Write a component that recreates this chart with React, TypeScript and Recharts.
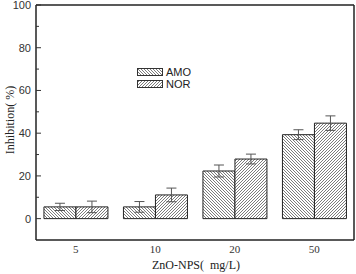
import { Bar, BarChart, ErrorBar, XAxis, YAxis } from 'recharts';

const concentrations = ['5', '10', '20', '50'];
const seriesNames = ['AMO', 'NOR'];
const amoValues = [5.5, 5.5, 22.3, 39.3];
const amoErrors = [1.7, 2.5, 2.8, 2.3];
const norValues = [5.5, 11.1, 27.9, 44.7];
const norErrors = [2.7, 3.2, 2.3, 3.4];
const yTicks = [-10, 0, 10, 20, 30, 40, 50, 60, 70, 80, 90, 100];

const data = concentrations.map((c, i) => ({
  conc: c,
  AMO: amoValues[i],
  amoErr: amoErrors[i],
  NOR: norValues[i],
  norErr: norErrors[i],
}));

const fills: Record<string, string> = { AMO: 'url(#hatchBack)', NOR: 'url(#hatchFwd)' };

function YTick(props: any) {
  const { x, y, payload } = props;
  const v = payload.value;
  if (v === -10) return null;
  const major = v % 20 === 0;
  return (
    <g>
      <line x1={x} x2={x + (major ? 5 : 3)} y1={y} y2={y} stroke="#333" strokeWidth={1} />
      {major && (
        <text x={x - 5} y={y} dy={4} textAnchor="end" fontSize={11} fill="#333" fontFamily="'Liberation Sans', Arial, sans-serif">
          {v}
        </text>
      )}
    </g>
  );
}

function XTick(props: any) {
  const { x, y, payload } = props;
  return (
    <text x={x} y={y} dy={10} textAnchor="middle" fontSize={11} fill="#333" fontFamily="'Liberation Serif', 'Times New Roman', serif">
      {payload.value}
    </text>
  );
}

export default function App() {
  return (
    <div style={{ position: 'fixed', left: 0, top: 0, width: 356, height: 274, background: '#fff' }}>
      <svg width={0} height={0} style={{ position: 'absolute' }}>
        <defs>
          <pattern id="hatchBack" patternUnits="userSpaceOnUse" width={3} height={3}>
            <rect width={3} height={3} fill="#fff" />
            <path d="M-1,-1 L4,4 M-1,2 L1,4 M2,-1 L4,1" stroke="#444" strokeWidth={0.7} />
          </pattern>
          <pattern id="hatchFwd" patternUnits="userSpaceOnUse" width={3} height={3}>
            <rect width={3} height={3} fill="#fff" />
            <path d="M-1,4 L4,-1 M-1,1 L1,-1 M2,4 L4,2" stroke="#444" strokeWidth={0.7} />
          </pattern>
        </defs>
      </svg>
      <BarChart
        width={356}
        height={274}
        data={data}
        margin={{ top: 0, right: 0, bottom: 0, left: 0 }}
        barCategoryGap="10%"
        barGap={0}
      >
        <XAxis dataKey="conc" height={34} tickLine={false} tickSize={0} tickMargin={3} tick={<XTick />} axisLine={{ stroke: '#222', strokeWidth: 1.5 }} interval={0} />
        <XAxis xAxisId="top" orientation="top" dataKey="conc" height={5} tick={false} tickLine={false} axisLine={{ stroke: '#222', strokeWidth: 1.5 }} />
        <YAxis
          domain={[-10, 100]}
          ticks={yTicks}
          width={36}
          tickSize={0}
          tickMargin={0}
          tickLine={false}
          tick={<YTick />}
          axisLine={{ stroke: '#222', strokeWidth: 1.5 }}
          interval={0}
          allowDataOverflow
        />
        <YAxis yAxisId="right" orientation="right" domain={[-10, 100]} width={2} tick={false} tickLine={false} axisLine={{ stroke: '#222', strokeWidth: 1.5 }} />
        <Bar dataKey="AMO" fill={fills.AMO} stroke="#222" strokeWidth={1} isAnimationActive={false}>
          <ErrorBar dataKey="amoErr" width={5} stroke="#555" strokeWidth={1} />
        </Bar>
        <Bar dataKey="NOR" fill={fills.NOR} stroke="#222" strokeWidth={1} isAnimationActive={false}>
          <ErrorBar dataKey="norErr" width={5} stroke="#555" strokeWidth={1} />
        </Bar>
      </BarChart>
      <div style={{ position: 'absolute', left: 137, top: 68, display: 'flex', flexDirection: 'column', gap: 4 }}>
        {seriesNames.map((name) => (
          <div key={name} style={{ display: 'flex', alignItems: 'center', height: 8, fontFamily: "'Liberation Sans', Arial, sans-serif", fontSize: 11, color: '#222' }}>
            <svg width={26} height={8} style={{ marginRight: 3 }}>
              <rect x={0.5} y={0.5} width={25} height={7} fill={fills[name]} stroke="#333" strokeWidth={1} />
            </svg>
            {name}
          </div>
        ))}
      </div>
      <div style={{ position: 'absolute', left: 0, top: 258, width: 356, paddingLeft: 36, boxSizing: 'border-box', textAlign: 'center', fontFamily: "'Liberation Serif', 'Times New Roman', serif", fontSize: 12, color: '#222' }}>
        ZnO-NPS(&nbsp; mg/L)
      </div>
      <div style={{ position: 'absolute', left: 10, top: 120, transform: 'translate(-50%, -50%) rotate(-90deg)', whiteSpace: 'nowrap', fontFamily: "'Liberation Serif', 'Times New Roman', serif", fontSize: 12, color: '#222' }}>
        Inhibition( %)
      </div>
    </div>
  );
}
